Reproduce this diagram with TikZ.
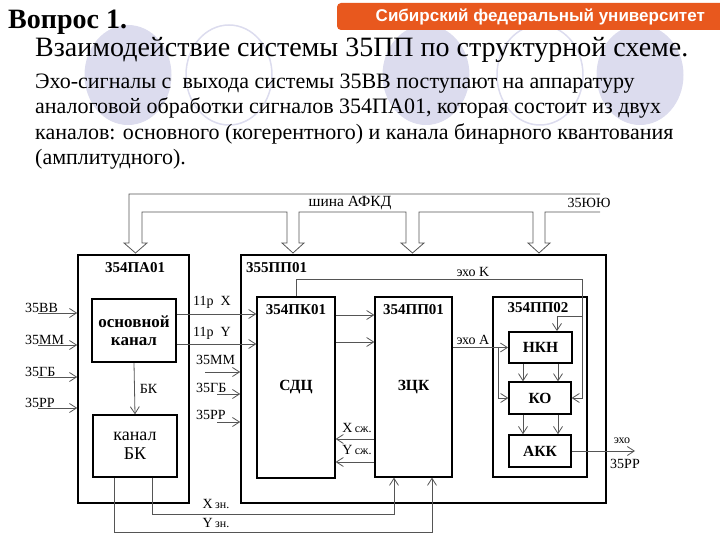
\documentclass[tikz,border=0pt]{standalone}
\usepackage{fontspec}
\setmainfont{Liberation Serif}
\setsansfont{Liberation Sans}
\usetikzlibrary{arrows.meta}
\definecolor{sfuorange}{RGB}{232,88,30}
\definecolor{lavender}{RGB}{220,220,238}
\definecolor{wiregray}{RGB}{85,85,85}
\tikzset{
  frame/.style={draw, line width=1.6pt},
  unit/.style={draw, line width=1.3pt, font=\bfseries\fontsize{15.5}{17}\selectfont},
  wire/.style={draw=wiregray, line width=0.8pt},
  conn/.style={wire, -{Straight Barb[length=7pt,width=9pt]}},
  lbl/.style={inner sep=0pt, font=\fontsize{14}{16}\selectfont},
  head/.style={inner sep=0pt, font=\bfseries\fontsize{15}{17}\selectfont}
}

\begin{document}
\begin{tikzpicture}[x=1pt, y=-1pt]
    \useasboundingbox (0,0) rectangle (720,540);

    % background circles
    \foreach \cx in {128,426,640}
        \fill[lavender] (\cx,75) ellipse (43.5 and 50);
    \foreach \cx in {229,540}
        \draw[lavender, line width=1.5pt] (\cx,75) ellipse (43 and 50);

    % header
    \fill[sfuorange] (337,3) [rounded corners=4pt] rectangle (724,30);
    \node[anchor=east, text=white, inner sep=0pt, font=\sffamily\bfseries\fontsize{17}{17}\selectfont] at (705,17) (banner) {Сибирский федеральный университет};
    \node[anchor=base west, inner sep=0pt, font=\bfseries\fontsize{28}{30}\selectfont] at (8,29) (question) {Вопрос 1.};
    \node[anchor=base west, inner sep=0pt, font=\fontsize{28}{30}\selectfont] at (35,57) (title) {Взаимодействие системы 35ПП по структурной схеме.};
    \node[anchor=base west, inner sep=0pt, font=\fontsize{22}{24}\selectfont] at (35,89) (line1) {Эхо-сигналы с \ выхода системы 35ВВ поступают на аппаратуру};
    \node[anchor=base west, inner sep=0pt, font=\fontsize{22}{24}\selectfont] at (35,114) (line2) {аналоговой обработки сигналов 354ПА01, которая состоит из двух};
    \node[anchor=base west, inner sep=0pt, font=\fontsize{22}{24}\selectfont] at (35,140) (line3) {каналов: основного (когерентного) и канала бинарного квантования};
    \node[anchor=base west, inner sep=0pt, font=\fontsize{22}{24}\selectfont] at (35,165) (line4) {(амплитудного).};

    % place nodes
    \node[frame, minimum width=111pt, minimum height=248pt] at (133.5, 379) (pa) {};
    \node[frame, minimum width=365pt, minimum height=248pt] at (423.5, 379) (pp) {};
    \node[head] at (135, 268) (paname) {354ПА01};
    \node[head, anchor=west] at (246, 268) (ppname) {355ПП01};

    \node[draw, line width=1.8pt, minimum width=84pt, minimum height=63pt, align=center,
          font=\bfseries\fontsize{17}{18}\selectfont] at (134, 330.5) (osn) {основной\\канал};
    \node[draw, line width=1.3pt, minimum width=84pt, minimum height=62pt, align=center,
          font=\fontsize{18}{19}\selectfont] at (135, 446) (bk) {канал\\БК};

    \node[unit, minimum width=78pt, minimum height=181pt] at (296, 387.5) (pk) {СДЦ};
    \node[unit, minimum width=77pt, minimum height=180pt] at (413.5, 387) (pp1) {ЗЦК};
    \node[frame, minimum width=94pt, minimum height=180pt] at (540, 387) (pp2) {};
    \node[head] at (296, 310) (pkname) {354ПК01};
    \node[head] at (413.5, 310) (pp1name) {354ПП01};
    \node[head] at (538, 308) (pp2name) {354ПП02};

    \node[unit, line width=1.8pt, minimum width=63pt, minimum height=31pt] at (540.5, 347.5) (nkn) {НКН};
    \node[unit, minimum width=62pt, minimum height=32pt] at (540, 398) (ko) {КО};
    \node[unit, line width=1.6pt, minimum width=62pt, minimum height=32pt] at (540, 451) (akk) {АКК};

    % bus
    \draw[wire] (600,194) -| (129,243) -- (124,243) -- (135.5,253) -- (147,243) -- (142,243)
        |- (287,212) -- (287,243) -- (282,243) -- (293,253) -- (304,243) -- (299,243)
        |- (406,212) -- (406,243) -- (401,243) -- (412.5,253) -- (424,243) -- (419,243)
        |- (533,212) -- (533,243) -- (528,243) -- (539,253) -- (550,243) -- (545,243)
        |- (600,212);
    \node[lbl, font=\fontsize{15.5}{17}\selectfont] at (350, 203) (busname) {шина АФКД};
    \node[lbl] at (589, 203) (busend) {35ЮЮ};

    % draw edges
    \foreach \name/\y in {35ВВ/313, 35ММ/345, 35ГБ/377, 35РР/408} {
        \coordinate (in\y) at (38, \y);
        \node[lbl, anchor=south west] at (25, \y) {\name};
        \draw[conn] (in\y) -- (in\y -| pa.west);
    }
    \foreach \name/\x/\y/\ly in {35ММ/205/372/364, 35ГБ/217/394/392, 35РР/217/422/419} {
        \coordinate (rin\y) at (\x, \y);
        \node[lbl, anchor=base west] at (196, \ly) {\name};
        \draw[conn] (rin\y) -- (rin\y -| pp.west);
    }

    \draw[conn] (osn.east |- 0,314) -- (pk.west |- 0,314);
    \draw[conn] (osn.east |- 0,344) -- (pk.west |- 0,344);
    \node[lbl] at (212, 302) {11р\ \ X};
    \node[lbl] at (212, 333) {11р\ \ Y};

    \draw[conn] (osn.south) -- node[lbl, right=5pt] {БК} (bk.north);

    \draw[conn] (pk.east |- 0,315) -- (pp1.west |- 0,315);
    \draw[conn] (pk.east |- 0,342) -- (pp1.west |- 0,342);

    \draw[conn] (pp1.west |- 0,439) -- (pk.east |- 0,439);
    \draw[conn] (pp1.west |- 0,462) -- (pk.east |- 0,462);
    \node[lbl] at (357, 428) {X\,{\fontsize{12}{12}\selectfont сж.}};
    \node[lbl] at (357, 450) {Y\,{\fontsize{12}{12}\selectfont сж.}};

    \draw[conn] (bk.south -| 152,0) |- (394,514) -- (pp1.south -| 394,0);
    \draw[conn] (bk.south -| 114,0) |- (432,532) -- (pp1.south -| 432,0);
    \node[lbl] at (216, 504) {X\,{\fontsize{12}{12}\selectfont зн.}};
    \node[lbl] at (216, 523) {Y\,{\fontsize{12}{12}\selectfont зн.}};

    \coordinate (kbend) at (582, 279);
    \draw[wire] (pk.north) |- (kbend);
    \draw[conn] (kbend) |- (ko.east);
    \draw[conn] (kbend |- 0,316) -| (nkn.north -| 557,0);
    \node[lbl] at (473, 272) {эхо K};

    \draw[conn] (nkn.west -| pp1.east) -- (nkn.west);
    \draw[conn] (nkn.west -| 498,0) |- (ko.west);
    \node[lbl] at (473, 340) {эхо A};

    \foreach \x in {523, 558} {
        \draw[conn] (nkn.south -| \x,0) -- (ko.north -| \x,0);
        \draw[conn] (ko.south -| \x,0) -- (akk.north -| \x,0);
    }

    \coordinate (echoout) at (635, 451);
    \draw[conn] (akk.east) -- (echoout);
    \node[lbl, font=\fontsize{12}{12}\selectfont] at (622, 441) {эхо};
    \node[lbl] at (625, 464) {35РР};
\end{tikzpicture}
\end{document}
